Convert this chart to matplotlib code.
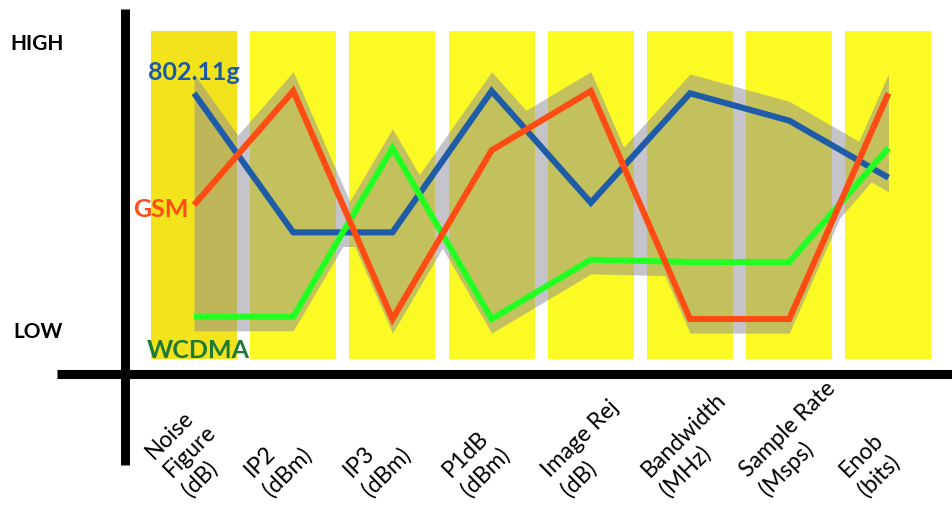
import numpy as np
import matplotlib
matplotlib.use("Agg")
import matplotlib.pyplot as plt

# categories along the bottom (multi-line labels)
categories = ["Noise\nFigure\n(dB)", "IP2\n(dBm)", "IP3\n(dBm)", "P1dB\n(dBm)",
              "Image Rej\n(dB)", "Bandwidth\n(MHz)", "Sample Rate\n(Msps)", "Enob\n(bits)"]

# relative level of each standard, 0 = LOW ... 10 = HIGH
wlan = [9.9, 3.8, 3.8, 10.0, 5.1, 9.9, 8.7, 6.2]     # 802.11g
gsm = [5.0, 10.0, 0.0, 7.4, 10.0, 0.0, 0.0, 9.9]     # GSM
wcdma = [0.1, 0.1, 7.5, 0.0, 2.6, 2.5, 2.5, 7.5]     # WCDMA

series_names = ["802.11g", "GSM", "WCDMA"]

fig = plt.figure(figsize=(9.53, 5.10), dpi=100)
ax = fig.add_axes([0, 0, 1, 1])
ax.set_xlim(-1.956, 7.651)
ax.set_ylim(-8.333, 14.035)
ax.axis("off")

idx = np.arange(len(categories))

# yellow columns
col_colors = ["#f3e31d"] + ["#fcfa24"] * (len(categories) - 1)
ax.bar(idx, 14.4, bottom=-1.75, width=0.867, color=col_colors, lw=0, zorder=1)

# envelope band around all three series
xs = np.linspace(0, len(categories) - 1, 1401)
curves = np.vstack([np.interp(xs, idx, s) for s in (wlan, gsm, wcdma)])
upper = curves.max(axis=0) + 0.85
lower = curves.min(axis=0) - 0.62
ax.fill_between(xs, lower, upper, color="#8a8a96", alpha=0.5, lw=0, zorder=2)

# lines
ax.plot(idx, wlan, color="#1f5ca8", lw=4.4, solid_joinstyle="miter", solid_capstyle="butt", zorder=3)
ax.plot(idx, wcdma, color="#22ff22", lw=4.4, solid_joinstyle="miter", solid_capstyle="butt", zorder=4)
ax.plot(idx, gsm, color="#ff4b14", lw=4.4, solid_joinstyle="miter", solid_capstyle="butt", zorder=5)

# heavy axis lines
ax.axvline(-0.70, ymin=0.086, ymax=0.98, color="black", lw=6.5, solid_capstyle="butt", zorder=6)
ax.axhline(-2.43, xmin=0.06, xmax=1.0, color="black", lw=6.5, solid_capstyle="butt", zorder=6)

bold = dict(family="Lato", fontweight="bold")
ax.text(-1.855, 11.84, "HIGH", fontsize=15, color="black", ha="left", va="baseline", **bold)
ax.text(-1.825, -0.79, "LOW", fontsize=15, color="black", ha="left", va="baseline", **bold)
ax.text(-0.464, 10.53, series_names[0], fontsize=18, color="#1d5aa6", ha="left", va="baseline", zorder=7, **bold)
ax.text(-0.06, 4.52, series_names[1], fontsize=18, color="#ff4b14", ha="right", va="baseline", zorder=7, **bold)
ax.text(-0.474, -1.67, series_names[2], fontsize=18, color="#1d7a35", ha="left", va="baseline", zorder=7, **bold)

for i, lab in enumerate(categories):
    ax.text(i - 0.53, -7.9, lab, rotation=45, ha="left", va="bottom",
            multialignment="left", fontsize=16.5, family="Lato", linespacing=1.3)

fig.savefig("out.png", dpi=100)
